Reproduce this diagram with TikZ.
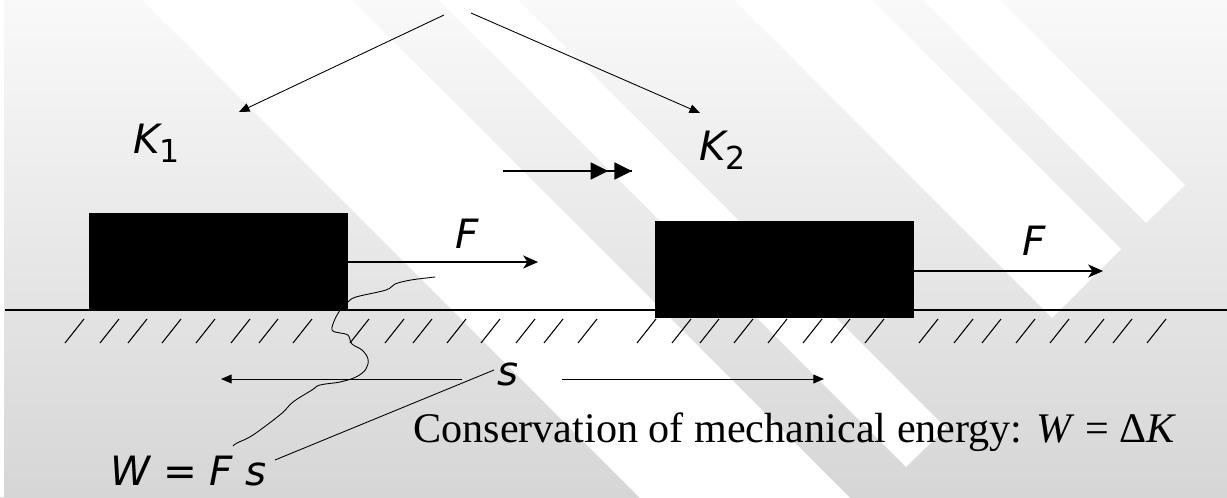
\documentclass[tikz,border=0pt]{standalone}
\usepackage{fontspec}
\setmainfont{Liberation Serif}
\newfontfamily\verd{DejaVu Sans}
\usetikzlibrary{arrows.meta,positioning}
\definecolor{slidetop}{RGB}{249,249,249}
\definecolor{slidebottom}{RGB}{214,214,214}
\newcommand{\lowsub}[1]{\raisebox{-5.5pt}{\upshape\fontsize{18}{20}\selectfont #1}}

\begin{document}
\begin{tikzpicture}[
    x=0.02cm, y=-0.02cm,
    stripe/.style={fill=white,draw=none},
    block/.style={fill=black,draw=black,minimum width=5.16cm,minimum height=1.92cm,inner sep=0pt},
    sym/.style={font=\verd\itshape\fontsize{23}{27}\selectfont,inner sep=0pt,anchor=base west},
    force/.style={-{Stealth[length=8.5pt,width=7.5pt,inset=2.5pt]},line width=0.7pt},
    thinarrow/.style={-{Triangle[length=6pt,width=5pt]},line width=0.5pt},
    hatch/.style={line width=0.6pt}
  ]
  % slide background
  \shade[top color=slidetop,bottom color=slidebottom] (0,0) rectangle (1227,497);
  \fill[white] (0,0) rectangle (4,497);
  \begin{scope}
    \clip (0,0) rectangle (1227,497);
    \fill[stripe] (142,0) -- (352,0) -- (872,520) -- (662,520) -- cycle;
    \fill[stripe] (439,0) -- (518,0) -- (946,428) -- (906,467) -- cycle;
    \fill[stripe] (734,0) -- (872,0) -- (1121,249) -- (1052,318) -- cycle;
    \fill[stripe] (923,0) -- (1000,0) -- (1185,185) -- (1146,223) -- cycle;
  \end{scope}
  \useasboundingbox (0,0) rectangle (1227,497);

  % ground
  \coordinate (groundl) at (5,310);
  \coordinate (groundr) at (1227,310);
  \draw[line width=0.85pt] (groundl) -- (groundr);
  \foreach \g in {65,350,637,919}
    \foreach \d in {0,35,63,97,131,166,194,228}
      \draw[hatch] (\g+\d,343) -- ++(19,-24);

  % blocks and forces
  \node[block] (blockone) at (218,261) {};
  \node[block] (blocktwo) at (784,269) {};
  \coordinate (fonetip) at (538,262);
  \coordinate (ftwotip) at (1103,271);
  \draw[force] (blockone.east |- fonetip) -- (fonetip);
  \draw[force] (blocktwo.east |- ftwotip) -- (ftwotip);

  % labels
  \node[sym] (kone) at (133,153) {K\lowsub{1}};
  \node[sym] (ktwo) at (699,160) {K\lowsub{2}};
  \node[sym] (fone) at (455,248) {F};
  \node[sym] (ftwo) at (1022,255) {F};
  \node[sym] (dist) at (497,385) {s};
  \node[sym] (work) at (110,485) {W = F s};
  \node[font=\fontsize{24}{28}\selectfont,inner sep=0pt,anchor=base west] (law) at (413,442)
    {Conservation of mechanical energy: \textit{W} = Δ\textit{K}};

  % kinetic energy arrows
  \coordinate (splitl) at (444,15);
  \coordinate (splitr) at (471,13);
  \coordinate (konetip) at (239,112);
  \coordinate (ktwotip) at (700,113);
  \draw[thinarrow] (splitl) -- (konetip);
  \draw[thinarrow] (splitr) -- (ktwotip);

  % motion
  \coordinate (movestart) at (503,171);
  \coordinate (movemid) at (527,171);
  \coordinate (moveend) at (632,171);
  \draw[line width=0.6pt] (movestart) -- (moveend);
  \draw[-{Triangle[length=10pt,width=9.5pt,sep=3.5pt]Triangle[length=10pt,width=9.5pt]},line width=1.6pt] (movemid) -- (moveend);

  % displacement
  \coordinate (sfroml) at (462,379);
  \coordinate (stol) at (221,379);
  \coordinate (sfromr) at (562,379);
  \coordinate (stor) at (824,379);
  \draw[thinarrow] (sfroml) -- (stol);
  \draw[thinarrow] (sfromr) -- (stor);

  % pointers to W = F s
  \coordinate (sfoot) at (494,370);
  \coordinate (wtop) at (275,460);
  \draw[line width=0.5pt] (sfoot) -- (wtop);
  \draw[line width=0.5pt] plot[smooth,tension=0.6] coordinates {(435,277) (411,280) (395,284) (386,290)
    (356,297) (348,302) (341,309) (335,319) (332,330) (340,333) (348,335) (352,344) (362,350)
    (368,359) (366,369) (356,377) (340,382) (320,385) (312,390) (293,402) (281,414) (253,435)
    (237,443) (233,446)};
\end{tikzpicture}
\end{document}
